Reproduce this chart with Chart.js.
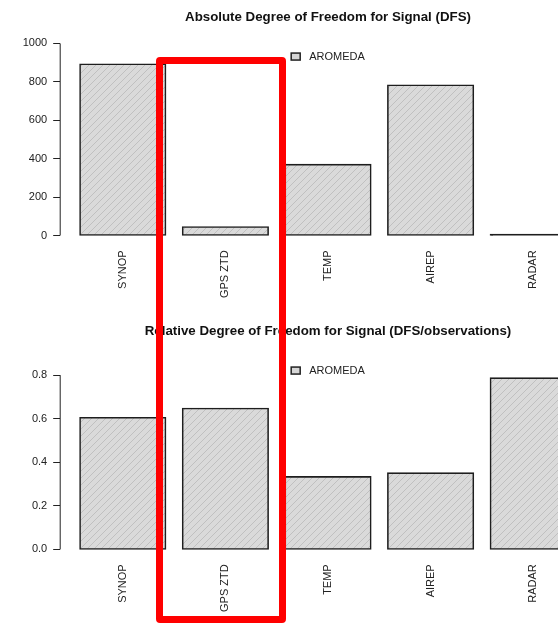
<!DOCTYPE html>
<html>
<head>
<meta charset="utf-8">
<title>Degree of Freedom for Signal</title>
<script src="https://cdn.jsdelivr.net/npm/chart.js@4"></script>
<style>
  html, body { margin: 0; padding: 0; background: #fff; overflow: hidden; }
  #wrap { position: relative; width: 558px; height: 623px; overflow: hidden; }
  .panel { position: absolute; left: 0; width: 656px; }
  #top { top: 0; height: 314px; }
  #bottom { top: 314px; height: 309px; }
  #mark { position: absolute; border: 7.5px solid #ff0000; border-radius: 4px; box-sizing: border-box; }
</style>
</head>
<body>
<div id="wrap">
  <div class="panel" id="top"><canvas id="absChart" width="656" height="314"></canvas></div>
  <div class="panel" id="bottom"><canvas id="relChart" width="656" height="309"></canvas></div>
  <div id="mark"></div>
</div>
<script>
// ---- data ----
const categories = ['SYNOP', 'GPS ZTD', 'TEMP', 'AIREP', 'RADAR'];
const seriesName = 'AROMEDA';
const absDfs = [892, 44, 369, 782, 5];
const relDfs = [0.604, 0.647, 0.333, 0.350, 0.786];
const absTicks = [0, 200, 400, 600, 800, 1000];
const relTicks = [0.0, 0.2, 0.4, 0.6, 0.8];

const FONT = '"Liberation Sans", Arial, Helvetica, sans-serif';
const EDGE = '#1e1e1e';
Chart.defaults.font.family = FONT;
Chart.defaults.color = '#222';

// R barplot layout: width 1, space 0.2; plot region is [-0.032, 6.232]
const pos = i => 0.7 + 1.2 * i;
const X_MID = 3.1;

function hatch() {
  const s = 7, c = document.createElement('canvas');
  c.width = s; c.height = s;
  const g = c.getContext('2d');
  g.fillStyle = '#dadada'; g.fillRect(0, 0, s, s);
  g.strokeStyle = '#c0c0c0'; g.lineWidth = 1;
  g.beginPath();
  g.moveTo(-1, s + 1); g.lineTo(s + 1, -1);
  g.moveTo(-1, 1); g.lineTo(1, -1);
  g.moveTo(s - 1, s + 1); g.lineTo(s + 1, s - 1);
  g.stroke();
  return g.createPattern(c, 'repeat');
}

// axis line from first to last tick, legend inside the plot (R style)
const rStyle = {
  id: 'rStyle',
  afterDraw(chart, args, opts) {
    const ctx = chart.ctx, y = chart.scales.y, area = chart.chartArea;
    const t = opts.ticks;
    ctx.save();
    ctx.strokeStyle = '#222'; ctx.lineWidth = 1;
    ctx.beginPath();
    ctx.moveTo(area.left, y.getPixelForValue(t[0]));
    ctx.lineTo(area.left, y.getPixelForValue(t[t.length - 1]));
    ctx.stroke();

    ctx.font = '11px ' + FONT;
    const label = chart.data.datasets[0].label;
    const tw = ctx.measureText(label).width;
    const total = 9 + 9 + tw;
    const cx = chart.scales.x.getPixelForValue(X_MID);
    const x0 = cx - total / 2, cy = area.top + 26;
    ctx.fillStyle = '#d6d6d6';
    ctx.fillRect(x0, cy - 3.5, 9, 7);
    ctx.strokeStyle = '#222'; ctx.lineWidth = 1.5;
    ctx.strokeRect(x0, cy - 3.5, 9, 7);
    ctx.fillStyle = '#222';
    ctx.textBaseline = 'middle'; ctx.textAlign = 'left';
    ctx.fillText(label, x0 + 18, cy);
    ctx.restore();
  }
};

function makeChart(id, title, values, ticks, ymin, ymax, fmt, axisH) {
  const pattern = hatch();
  return new Chart(document.getElementById(id), {
    type: 'bar',
    data: {
      datasets: [{
        label: seriesName,
        data: values.map((v, i) => ({ x: pos(i), y: v })),
        // a bar only a pixel tall is all border, as in the R plot
        backgroundColor: c => {
          const y = c.chart.scales.y;
          if (!y || !c.raw) return pattern;
          const h = Math.abs(y.getPixelForValue(c.raw.y) - y.getPixelForValue(0));
          return h < 3 ? EDGE : pattern;
        },
        borderColor: EDGE,
        borderWidth: 1.6,
        borderSkipped: false,
        inflateAmount: 0.8,
        barPercentage: 1 / 1.2,
        categoryPercentage: 1
      }]
    },
    options: {
      responsive: false,
      animation: false,
      layout: { padding: 0 },
      plugins: {
        legend: { display: false },
        tooltip: { enabled: false },
        title: {
          display: true, text: title, color: '#111',
          font: { size: 13.3, weight: 'bold', family: FONT },
          padding: { top: 9, bottom: 5.6 }
        },
        rStyle: { ticks: ticks }
      },
      scales: {
        x: {
          type: 'linear', min: -0.032, max: 6.936, offset: false,
          afterBuildTicks: s => { s.ticks = categories.map((c, i) => ({ value: pos(i) })); },
          afterFit: s => { s.height = axisH; },
          ticks: {
            autoSkip: false, minRotation: 90, maxRotation: 90, padding: 7,
            font: { size: 11 }, color: '#222',
            callback: (v, i) => categories[i]
          },
          grid: { display: false, drawTicks: false, offset: false },
          border: { display: false }
        },
        y: {
          min: ymin, max: ymax,
          afterBuildTicks: s => { s.ticks = ticks.map(v => ({ value: v })); },
          afterFit: s => { s.width = 60.2; },
          ticks: { padding: 6, font: { size: 11 }, color: '#222', callback: fmt },
          grid: { drawOnChartArea: false, drawTicks: true, tickLength: 7, color: '#222', lineWidth: 1 },
          border: { display: false }
        }
      }
    },
    plugins: [rStyle]
  });
}

const absChart = makeChart('absChart', 'Absolute Degree of Freedom for Signal (DFS)',
  absDfs, absTicks, -41, 1067, v => String(v), 70.6);
const relChart = makeChart('relChart', 'Relative Degree of Freedom for Signal (DFS/observations)',
  relDfs, relTicks, -0.036, 0.94, v => v.toFixed(1), 65.7);

// red highlight box around the GPS ZTD column
const cx = absChart.scales.x.getPixelForValue(pos(1));
const mark = document.getElementById('mark');
mark.style.left = (cx - 69.6) + 'px';
mark.style.width = '130px';
mark.style.top = '57.3px';
mark.style.height = '565.4px';
</script>
</body>
</html>
